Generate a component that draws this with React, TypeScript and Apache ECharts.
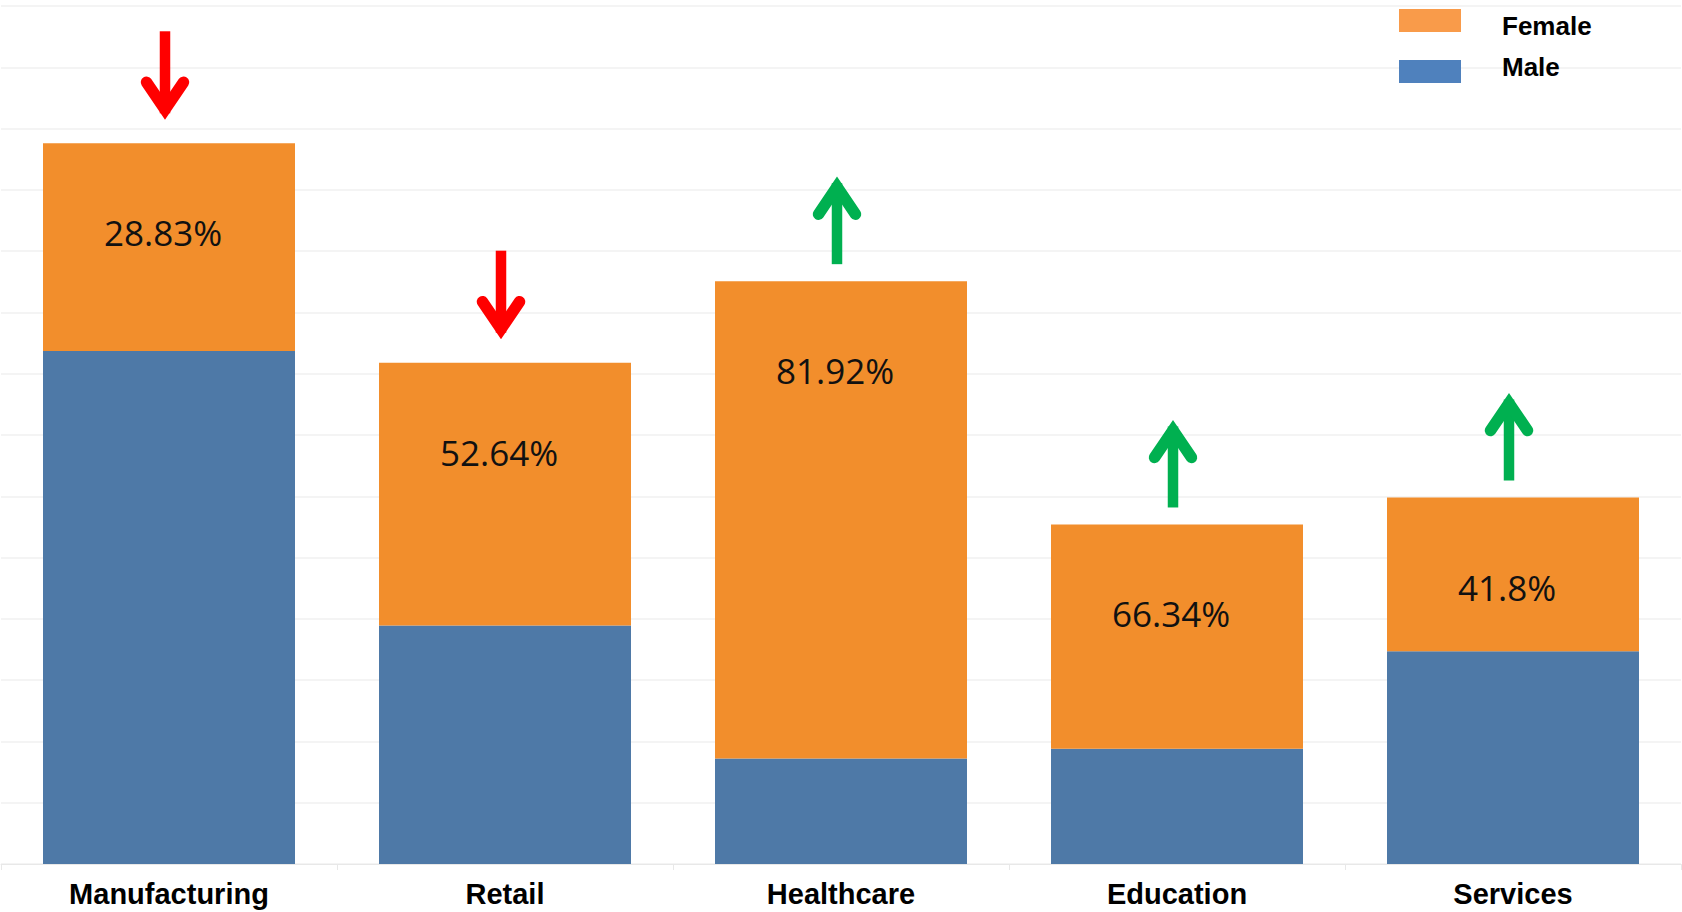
import React, { useEffect, useRef } from 'react';
import * as echarts from 'echarts';

// ---- data ----
const categories = ['Manufacturing', 'Retail', 'Healthcare', 'Education', 'Services'];
const maleValues = [8.37, 3.89, 1.72, 1.88, 3.47];
const femaleValues = [3.39, 4.29, 7.79, 3.66, 2.51];
const femaleShare = [28.83, 52.64, 81.92, 66.34, 41.8];
const trendDirections = ['down', 'down', 'up', 'up', 'up'];
const legendNames = ['Female', 'Male'];
const yMax = 14;
const yInterval = 1;

const ORANGE = '#F28E2C';
const BLUE = '#4E79A7';

export default function App() {
  const ref = useRef<HTMLDivElement>(null);

  useEffect(() => {
    document.body.style.margin = '0';
    const chart = echarts.init(ref.current!, null, { renderer: 'svg' });
    const totals = categories.map((_, i) => [i, maleValues[i] + femaleValues[i]]);

    const legendTextStyle = {
      fill: '#000',
      fontSize: 26,
      fontWeight: 'bold',
      fontFamily: 'Liberation Sans',
      verticalAlign: 'top',
      align: 'left',
    };

    const option: any = {
      animation: false,
      backgroundColor: '#ffffff',
      grid: { left: 1, right: 1, top: 6, bottom: 48, containLabel: false },
      legend: {
        orient: 'vertical',
        left: 1399,
        top: 9,
        padding: 0,
        itemWidth: 62,
        itemHeight: 23,
        itemGap: 28,
        icon: 'rect',
        selectedMode: false,
        formatter: () => '',
        data: [
          { name: legendNames[0], itemStyle: { color: '#F99B4A' } },
          { name: legendNames[1], itemStyle: { color: '#4F81BD' } },
        ],
        textStyle: { fontSize: 12, lineHeight: 12 },
      },
      graphic: [
        { type: 'text', z: 100, left: 1502, top: 12.5, style: { ...legendTextStyle, text: legendNames[0] } },
        { type: 'text', z: 100, left: 1502, top: 53.5, style: { ...legendTextStyle, text: legendNames[1] } },
      ],
      xAxis: {
        type: 'category',
        data: categories,
        axisLine: { show: true, lineStyle: { color: '#E8E8E8', width: 1 } },
        axisTick: { show: true, length: 6, lineStyle: { color: '#E8E8E8' } },
        axisLabel: {
          color: '#000',
          fontSize: 29,
          fontWeight: 'bold',
          fontFamily: 'Liberation Sans',
          margin: 15,
        },
      },
      yAxis: {
        type: 'value',
        min: 0,
        max: yMax,
        interval: yInterval,
        axisLabel: { show: false },
        axisLine: { show: false },
        axisTick: { show: false },
        splitLine: { show: true, lineStyle: { color: '#F0F0F0', width: 1.5 } },
      },
      series: [
        {
          name: 'Male',
          type: 'bar',
          stack: 'total',
          barWidth: '75%',
          itemStyle: { color: BLUE },
          data: maleValues,
        },
        {
          name: 'Female',
          type: 'bar',
          stack: 'total',
          barWidth: '75%',
          itemStyle: { color: ORANGE },
          data: femaleValues,
          label: {
            show: true,
            position: 'insideTop',
            distance: 72,
            offset: [-6, 0],
            color: '#111',
            fontSize: 35,
            lineHeight: 35,
            fontFamily: 'Open Sans',
            formatter: (p: any) => `${femaleShare[p.dataIndex]}%`,
          },
        },
        {
          name: 'Trend',
          type: 'custom',
          silent: true,
          z: 10,
          encode: { x: 0, y: 1 },
          data: totals,
          renderItem: (params: any, api: any) => {
            const idx = params.dataIndex;
            const pt = api.coord([api.value(0), api.value(1)]);
            const dir = trendDirections[idx];
            const color = dir === 'up' ? '#00B050' : '#FF0000';
            const top = pt[1];
            let children: any[];
            if (dir === 'down') {
              const tip = top - 22;
              children = [
                { type: 'line', shape: { x1: 0, y1: tip - 90, x2: 0, y2: tip - 8 }, style: { stroke: color, lineWidth: 10.5 } },
                {
                  type: 'polyline',
                  shape: { points: [[-18.5, tip - 39], [0, tip - 11.7], [18.5, tip - 39]] },
                  style: { stroke: color, lineWidth: 11.5, lineCap: 'round', lineJoin: 'miter', fill: 'none' },
                },
              ];
            } else {
              const bottom = top - 17;
              const tip = bottom - 89;
              children = [
                { type: 'line', shape: { x1: 0, y1: bottom, x2: 0, y2: tip + 8 }, style: { stroke: color, lineWidth: 10.5 } },
                {
                  type: 'polyline',
                  shape: { points: [[-18.5, tip + 39], [0, tip + 11.7], [18.5, tip + 39]] },
                  style: { stroke: color, lineWidth: 11.5, lineCap: 'round', lineJoin: 'miter', fill: 'none' },
                },
              ];
            }
            return { type: 'group', x: pt[0] - 4, y: 0, children };
          },
        },
      ],
    };
    chart.setOption(option);
    return () => chart.dispose();
  }, []);

  return <div ref={ref} style={{ width: 1682, height: 912 }} />;
}
